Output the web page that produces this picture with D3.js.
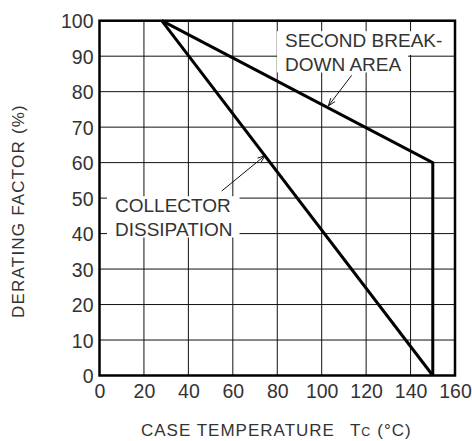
<!DOCTYPE html>
<html>
<head>
<meta charset="utf-8">
<script src="https://cdn.jsdelivr.net/npm/d3@7"></script>
<style>
  html, body { margin: 0; padding: 0; background: #fff; overflow: hidden; }
  svg { display: block; }
  text { font-family: "Liberation Sans", Arial, sans-serif; fill: #333; }
</style>
</head>
<body>
<div id="chart"></div>
<script>
// values
const xTicks = [0, 20, 40, 60, 80, 100, 120, 140, 160];
const yTicks = [0, 10, 20, 30, 40, 50, 60, 70, 80, 90, 100];
const collectorTemp = [28, 150];
const collectorFactor = [100, 0];
const breakdownTemp = [28, 150, 150];
const breakdownFactor = [100, 60, 0];

const width = 472, height = 441;
const margin = {top: 20.7, right: 17, bottom: 65.5, left: 99.5};
const innerWidth = width - margin.left - margin.right,
    innerHeight = height - margin.top - margin.bottom;

const svg = d3.select("#chart")
    .append("svg")
    .attr("width", width)
    .attr("height", height);

const g = svg.append("g")
    .attr("transform", "translate(" + margin.left + "," + margin.top + ")");

const x = d3.scaleLinear().domain([0, 160]).range([0, innerWidth]);
const y = d3.scaleLinear().domain([0, 100]).range([innerHeight, 0]);

// grid
g.append("g").selectAll("line")
    .data(xTicks)
    .enter().append("line")
    .attr("x1", d => x(d)).attr("x2", d => x(d))
    .attr("y1", 0).attr("y2", innerHeight)
    .attr("stroke", "#111").attr("stroke-width", 1);
g.append("g").selectAll("line")
    .data(yTicks)
    .enter().append("line")
    .attr("x1", 0).attr("x2", innerWidth)
    .attr("y1", d => y(d)).attr("y2", d => y(d))
    .attr("stroke", "#111").attr("stroke-width", 1);

// tick labels
const xAxis = g.append("g")
    .attr("transform", "translate(0," + innerHeight + ")")
    .call(d3.axisBottom(x).tickValues(xTicks).tickSize(0).tickPadding(8.3).tickFormat(d3.format("d")));
const yAxis = g.append("g")
    .call(d3.axisLeft(y).tickValues(yTicks).tickSize(0).tickPadding(6).tickFormat(d3.format("d")));
[xAxis, yAxis].forEach(a => {
    a.select(".domain").remove();
    a.selectAll("text")
        .attr("font-family", null)
        .style("font-size", "19.5px")
        .style("fill", "#333");
});
yAxis.selectAll("text").attr("dy", "0.37em");

// annotations (drawn before the curves so the curves stay on top)
const annotations = [
    {lines: ["SECOND BREAK-", "DOWN AREA"], tx: 285, ty: 46.7, block: false,
        from: [113.5, 84.6], to: [103, 76]},
    {lines: ["COLLECTOR", "DISSIPATION"], tx: 115, ty: 211.7, block: true,
        from: [55, 52], to: [74.5, 62]}
];
const lineGap = 23.8;

annotations.forEach(a => {
    const grp = svg.append("g");
    const boxes = grp.append("g");
    const texts = a.lines.map((s, i) => grp.append("text")
        .attr("x", a.tx)
        .attr("y", a.ty + i * lineGap)
        .style("font-size", "19px")
        .text(s));
    const widths = texts.map(t => t.node().getComputedTextLength());
    const maxW = d3.max(widths);
    a.lines.forEach((s, i) => {
        const top = a.ty + i * lineGap - 15.5;
        const bottom = i < a.lines.length - 1 ? a.ty + (i + 1) * lineGap - 15.5 : a.ty + i * lineGap + 2;
        const w = a.block ? maxW : widths[i];
        boxes.append("rect")
            .attr("x", a.tx - 8)
            .attr("y", top)
            .attr("width", w + 15)
            .attr("height", bottom - top)
            .attr("fill", "#fff");
    });
});

// leader lines with open arrow heads
const leaders = g.append("g");
annotations.forEach(a => {
    const x1 = x(a.from[0]), y1 = y(a.from[1]);
    const x2 = x(a.to[0]), y2 = y(a.to[1]);
    leaders.append("line")
        .attr("x1", x1).attr("y1", y1).attr("x2", x2).attr("y2", y2)
        .attr("stroke", "#111").attr("stroke-width", 1);
    const ang = Math.atan2(y1 - y2, x1 - x2);
    const len = 8, spread = 0.35;
    const p1 = [x2 + len * Math.cos(ang + spread), y2 + len * Math.sin(ang + spread)];
    const p2 = [x2 + len * Math.cos(ang - spread), y2 + len * Math.sin(ang - spread)];
    leaders.append("path")
        .attr("d", "M" + p1 + "L" + [x2, y2] + "L" + p2)
        .attr("fill", "none")
        .attr("stroke", "#111").attr("stroke-width", 1);
});

// frame
g.append("rect")
    .attr("x", 0).attr("y", 0)
    .attr("width", innerWidth).attr("height", innerHeight)
    .attr("fill", "none")
    .attr("stroke", "#000").attr("stroke-width", 2.5);

// curves
const line = d3.line().x(d => x(d[0])).y(d => y(d[1]));
g.append("path")
    .datum(collectorTemp.map((t, i) => [t, collectorFactor[i]]))
    .attr("d", line)
    .attr("fill", "none").attr("stroke", "#000").attr("stroke-width", 3);
g.append("path")
    .datum(breakdownTemp.map((t, i) => [t, breakdownFactor[i]]))
    .attr("d", line)
    .attr("fill", "none").attr("stroke", "#000").attr("stroke-width", 3)
    .attr("stroke-linejoin", "miter");

// axis titles
svg.append("text")
    .attr("transform", "translate(24," + 211 + ") rotate(-90)")
    .attr("text-anchor", "middle")
    .style("font-size", "17px")
    .style("letter-spacing", "1.2px")
    .text("DERATING FACTOR (%)");

const xt = svg.append("text")
    .attr("x", 141)
    .attr("y", 436)
    .style("font-size", "17px")
    .style("letter-spacing", "1px");
xt.append("tspan").text("CASE TEMPERATURE");
xt.append("tspan").attr("dx", 15).text("T");
xt.append("tspan").style("font-size", "12.5px").text("C");
xt.append("tspan").attr("dx", 6).text("(°C)");
</script>
</body>
</html>
